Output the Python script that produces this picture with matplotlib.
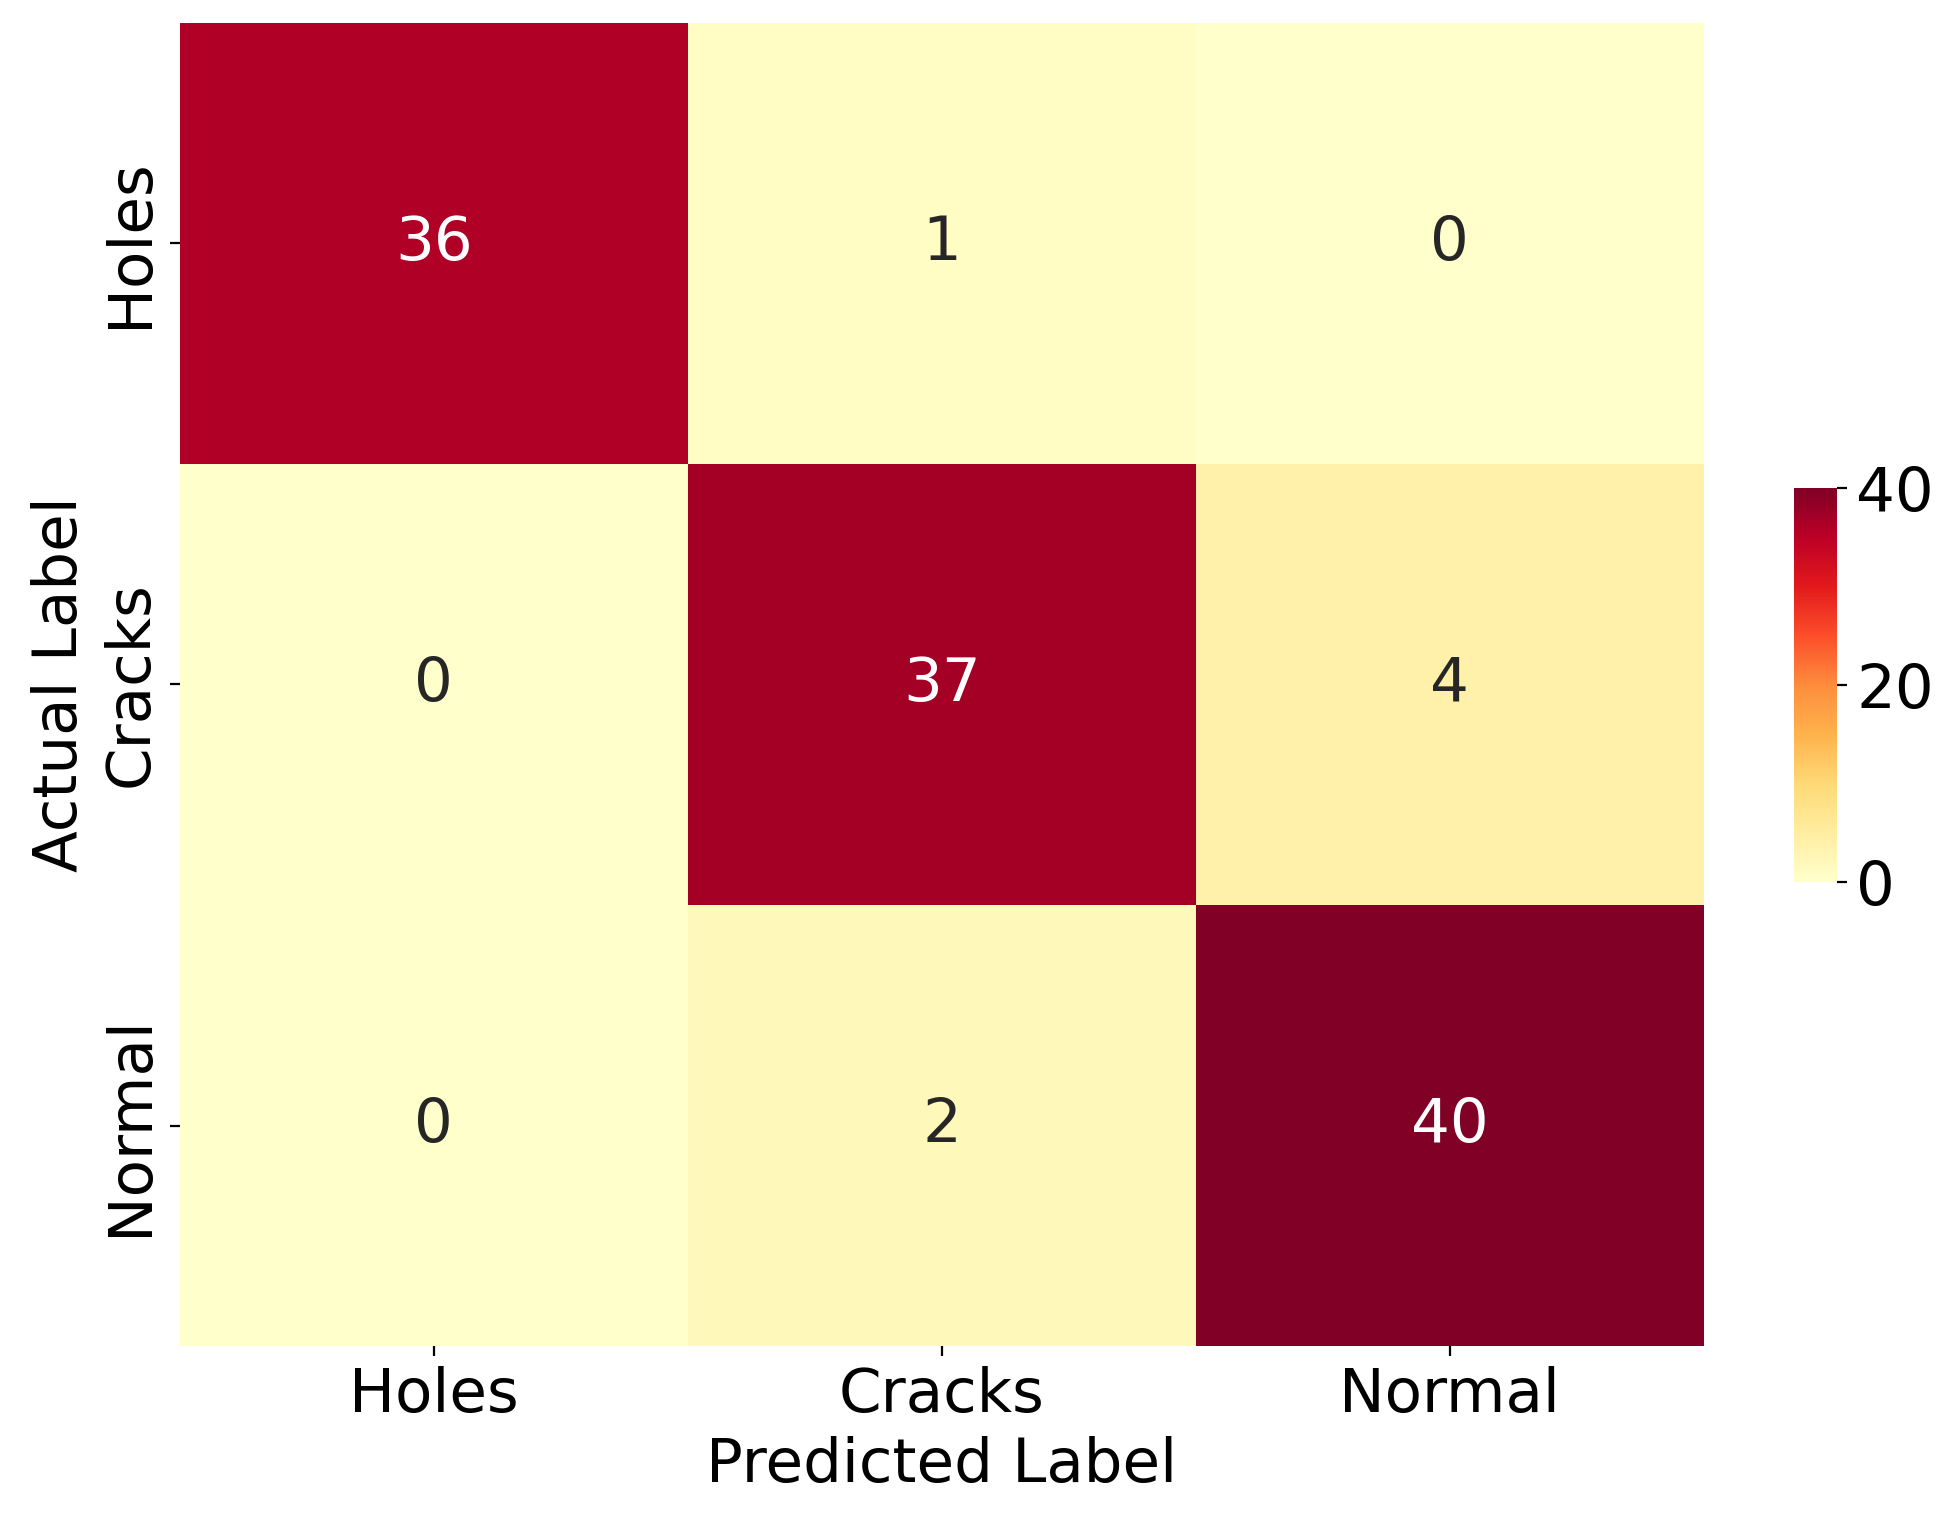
import numpy as np
import matplotlib
matplotlib.use("Agg")
import matplotlib.pyplot as plt
import seaborn as sns

labels = ["Holes", "Cracks", "Normal"]
cm = np.array([[36, 1, 0],
               [0, 37, 4],
               [0, 2, 40]])

fig = plt.figure(figsize=(9.77, 7.58), dpi=200)
ax = fig.add_axes([0.092, 0.112, 0.78, 0.873])
cax = fig.add_axes([0.918, 0.418, 0.022, 0.26])
sns.heatmap(cm, annot=True, fmt="d", cmap="YlOrRd", ax=ax, cbar_ax=cax,
            xticklabels=labels, yticklabels=labels,
            annot_kws={"fontsize": 22})
ax.set_xlabel("Predicted Label", fontsize=22)
ax.set_ylabel("Actual Label", fontsize=22)
ax.tick_params(labelsize=22)
plt.setp(ax.get_yticklabels(), rotation=90, va="center")
cax.tick_params(labelsize=22)
cax.set_yticks([0, 20, 40])
fig.savefig("out.png")
